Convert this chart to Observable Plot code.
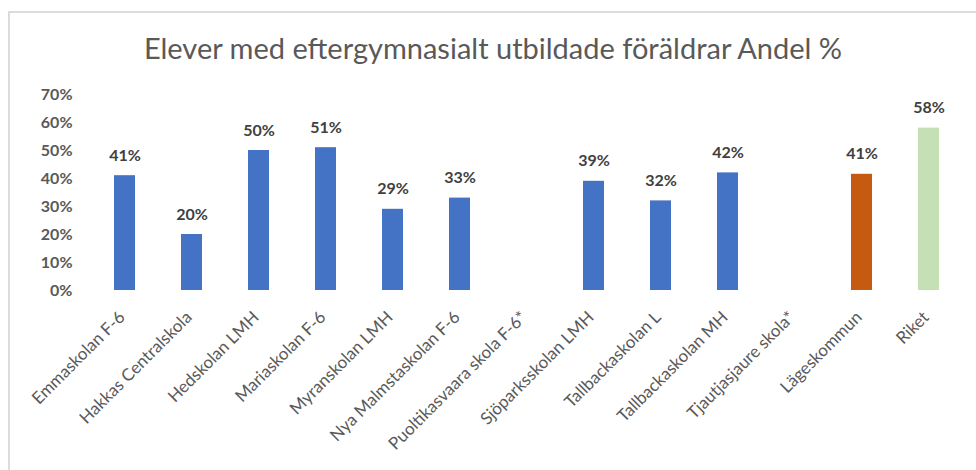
<!DOCTYPE html>
<html>
<head>
<meta charset="utf-8">
<script src="https://cdn.jsdelivr.net/npm/d3@7"></script>
<script src="https://cdn.jsdelivr.net/npm/@observablehq/plot@0.6"></script>
<style>
  html, body { margin: 0; padding: 0; background: #fff; overflow: hidden; }
  #wrap { position: relative; width: 976px; height: 470px; overflow: hidden; font-family: Lato, "Open Sans", sans-serif; }
  #frame { position: absolute; left: 8px; top: 11px; width: 1000px; height: 500px; border: 2px solid #dcdcdc; box-sizing: border-box; }
  #title { position: absolute; left: 0; width: 986px; top: 30px; text-align: center; font-size: 29px; color: #595959; line-height: 36px; }
  #chart { position: absolute; left: 0; top: 0; }
</style>
</head>
<body>
<div id="wrap">
  <div id="frame"></div>
  <div id="title">Elever med eftergymnasialt utbildade föräldrar Andel %</div>
  <div id="chart"></div>
</div>
<script>
const categories = [
  "Emmaskolan F-6", "Hakkas Centralskola", "Hedskolan LMH", "Mariaskolan F-6",
  "Myranskolan LMH", "Nya Malmstaskolan F-6", "Puoltikasvaara skola F-6*",
  "Sjöparksskolan LMH", "Tallbackaskolan L", "Tallbackaskolan MH",
  "Tjautjasjaure skola*", "Lägeskommun", "Riket"
];
const values = [0.41, 0.20, 0.50, 0.51, 0.29, 0.33, null, 0.39, 0.32, 0.42, null, 0.415, 0.58];
const labels = ["41%", "20%", "50%", "51%", "29%", "33%", null, "39%", "32%", "42%", null, "41%", "58%"];
const colors = ["#4472c4", "#4472c4", "#4472c4", "#4472c4", "#4472c4", "#4472c4", "#4472c4",
  "#4472c4", "#4472c4", "#4472c4", "#4472c4", "#c55a11", "#c5e0b4"];
const yTicks = [0, 0.1, 0.2, 0.3, 0.4, 0.5, 0.6, 0.7];

const data = categories.map((c, i) => ({ name: c, value: values[i], label: labels[i], color: colors[i] }));
const present = data.filter(d => d.value != null);

const chart = Plot.plot({
  width: 976,
  height: 470,
  marginLeft: 90,
  marginRight: 13,
  marginTop: 94,
  marginBottom: 180,
  style: { fontFamily: "Lato, 'Open Sans', sans-serif", background: "transparent", overflow: "visible" },
  x: { domain: categories, paddingInner: 0.69, paddingOuter: 0.345, label: null },
  y: { domain: [0, 0.7], label: null },
  marks: [
    Plot.ruleY(yTicks, { stroke: "#d9d9d9", strokeWidth: 1.5, x1: 88, x2: 963 }),
    Plot.axisY({ ticks: yTicks, tickFormat: d => Math.round(d * 100) + "%", tickSize: 0, tickPadding: 18,
      fontSize: 16, fontWeight: 700, fill: "#595959", label: null }),
    Plot.axisX({ tickSize: 0, tickRotate: -45, tickPadding: 24, dx: -3, fontSize: 17, fill: "#595959", label: null }),
    Plot.barY(present, { x: "name", y: "value", fill: "color" }),
    Plot.text(present, { x: "name", y: "value", text: "label", dy: -20, fontSize: 16, fontWeight: 700, fill: "#404040" })
  ]
});
document.getElementById("chart").appendChild(chart);
</script>
</body>
</html>
